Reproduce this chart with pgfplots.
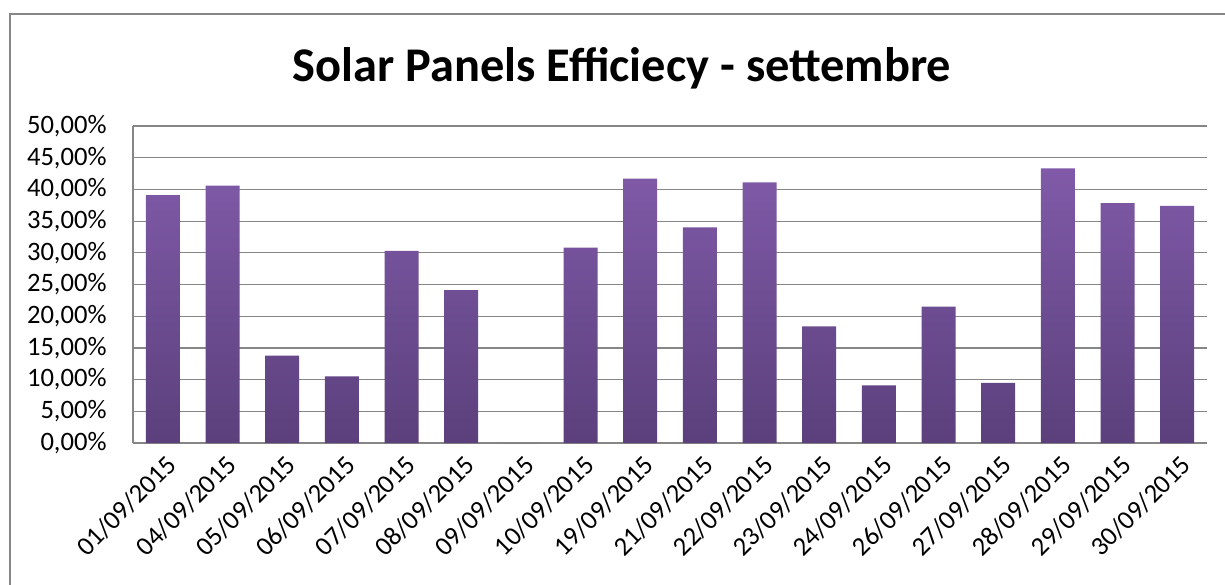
\documentclass[border=0pt]{standalone}
\usepackage{fontspec}
\setmainfont{Carlito}
\usepackage{pgfplots}
\pgfplotsset{compat=1.18}
\definecolor{gridgray}{RGB}{134,134,134}
\definecolor{bartop}{RGB}{128,90,168}
\definecolor{barbot}{RGB}{91,64,124}
\begin{document}
\begin{tikzpicture}[x=0.5pt,y=0.5pt]
\useasboundingbox (0,0) rectangle (1225,584);
% chart frame (cropped on the right and bottom)
\draw[gridgray, line width=1pt] (10,-10) -- (10,570) -- (1240,570);
\node[font=\bfseries\fontsize{24.2}{28}\selectfont] at (622,516) {Solar Panels Efficiecy - settembre};
\begin{axis}[
    at={(66.5pt,70.5pt)}, anchor=south west,
    scale only axis, width=537pt, height=158.5pt,
    ymin=0, ymax=50, ytick={0,5,...,50},
    xmin=-0.5, xmax=17.5, xtick=data,
    xticklabels={01/09/2015,04/09/2015,05/09/2015,06/09/2015,07/09/2015,08/09/2015,
        09/09/2015,10/09/2015,19/09/2015,21/09/2015,22/09/2015,23/09/2015,
        24/09/2015,26/09/2015,27/09/2015,28/09/2015,29/09/2015,30/09/2015},
    /pgf/number format/assume math mode=true,
    yticklabel={\pgfmathprintnumber[fixed,fixed zerofill,precision=2,use comma]{\tick}\%},
    major tick length=0pt,
    ticklabel style={font=\fontsize{13.3}{15}\selectfont, inner sep=0pt},
    yticklabel style={anchor=east, xshift=-13pt},
    xticklabel style={xshift=1pt, yshift=-5pt, rotate=45, anchor=north east},
    axis x line*=bottom, axis y line*=left,
    axis line style={gridgray, line width=0.6pt, -},
    ymajorgrids, grid style={gridgray, line width=0.6pt},
    ybar, bar width=17pt,
]
\addplot[draw=none, top color=bartop, bottom color=barbot] coordinates {
    (0,39.1) (1,40.6) (2,13.8) (3,10.5) (4,30.3) (5,24.1)
    (6,0) (7,30.8) (8,41.7) (9,34.0) (10,41.1) (11,18.4)
    (12,9.1) (13,21.5) (14,9.5) (15,43.3) (16,37.85) (17,37.4)};
\end{axis}
\end{tikzpicture}
\end{document}
